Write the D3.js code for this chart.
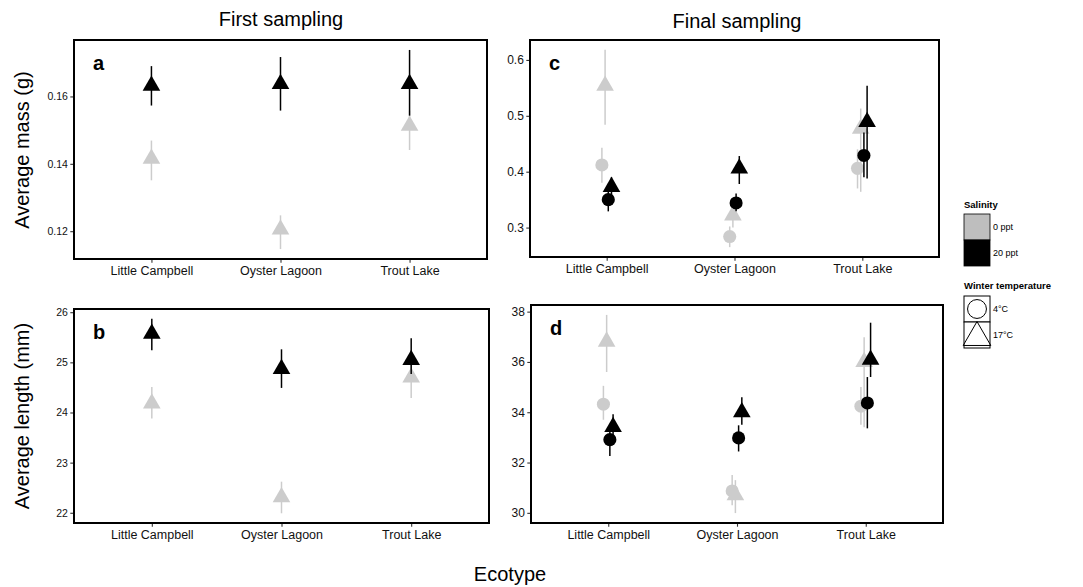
<!DOCTYPE html>
<html><head><meta charset="utf-8">
<script src="https://cdn.jsdelivr.net/npm/d3@7"></script>
<style>body{margin:0;background:#fff}svg{display:block}text{font-family:"Liberation Sans",Arial,Helvetica,sans-serif}</style>
</head><body><svg id="c" width="1083" height="587"></svg>
<script>
// ---------- DATA ----------
const categories = ["Little Campbell", "Oyster Lagoon", "Trout Lake"];
const salinityLevels = ["0 ppt", "20 ppt"];
const temperatureLevels = ["4°C", "17°C"];

// First sampling, average mass (g): only 17°C fish
const massFirst_0ppt_17 = [0.1415, 0.1205, 0.1513];
const massFirst_0ppt_17_lo = [0.1351, 0.1147, 0.1441];
const massFirst_0ppt_17_hi = [0.1469, 0.1247, 0.1558];
const massFirst_20ppt_17 = [0.1632, 0.1637, 0.1637];
const massFirst_20ppt_17_lo = [0.1573, 0.1558, 0.1543];
const massFirst_20ppt_17_hi = [0.1690, 0.1717, 0.1738];

// Final sampling, average mass (g)
const massFinal_0ppt_4 = [0.412, 0.284, 0.406];
const massFinal_0ppt_4_lo = [0.380, 0.265, 0.370];
const massFinal_0ppt_4_hi = [0.443, 0.302, 0.440];
const massFinal_0ppt_17 = [0.554, 0.322, 0.477];
const massFinal_0ppt_17_lo = [0.484, 0.300, 0.364];
const massFinal_0ppt_17_hi = [0.618, 0.342, 0.513];
const massFinal_20ppt_4 = [0.350, 0.344, 0.429];
const massFinal_20ppt_4_lo = [0.329, 0.329, 0.390];
const massFinal_20ppt_4_hi = [0.370, 0.361, 0.470];
const massFinal_20ppt_17 = [0.373, 0.406, 0.489];
const massFinal_20ppt_17_lo = [0.355, 0.378, 0.388];
const massFinal_20ppt_17_hi = [0.390, 0.428, 0.554];

// First sampling, average length (mm)
const lenFirst_0ppt_17 = [24.18, 22.31, 24.70];
const lenFirst_0ppt_17_lo = [23.88, 21.99, 24.29];
const lenFirst_0ppt_17_hi = [24.51, 22.62, 25.00];
const lenFirst_20ppt_17 = [25.57, 24.87, 25.05];
const lenFirst_20ppt_17_lo = [25.24, 24.49, 24.77];
const lenFirst_20ppt_17_hi = [25.87, 25.26, 25.48];

// Final sampling, average length (mm)
const lenFinal_0ppt_4 = [34.32, 30.87, 34.24];
const lenFinal_0ppt_4_lo = [33.70, 30.30, 33.50];
const lenFinal_0ppt_4_hi = [35.05, 31.50, 35.00];
const lenFinal_0ppt_17 = [36.81, 30.70, 36.00];
const lenFinal_0ppt_17_lo = [35.60, 29.99, 33.40];
const lenFinal_0ppt_17_hi = [37.87, 31.30, 36.98];
const lenFinal_20ppt_4 = [32.91, 32.98, 34.37];
const lenFinal_20ppt_4_lo = [32.26, 32.44, 33.36];
const lenFinal_20ppt_4_hi = [33.30, 33.48, 35.40];
const lenFinal_20ppt_17 = [33.42, 34.00, 36.09];
const lenFinal_20ppt_17_lo = [33.00, 33.50, 35.40];
const lenFinal_20ppt_17_hi = [33.92, 34.60, 37.56];

const ticksMassFirst = [0.12, 0.14, 0.16];
const ticksMassFinal = [0.3, 0.4, 0.5, 0.6];
const ticksLenFirst = [22, 23, 24, 25, 26];
const ticksLenFinal = [30, 32, 34, 36, 38];

// ---------- BUILD ----------
function series(sal, temp, m, lo, hi) {
  return categories.map((c, i) => ({cat: c, sal, temp, group: sal + "|" + temp, m: m[i], lo: lo[i], hi: hi[i]}));
}
const panels = [
  {letter: "a", box: [74, 40, 487, 259], ticks: ticksMassFirst, fmt: d3.format(".2f"), fs: 10.5, dodge: false,
   data: [series("0 ppt", "17°C", massFirst_0ppt_17, massFirst_0ppt_17_lo, massFirst_0ppt_17_hi),
          series("20 ppt", "17°C", massFirst_20ppt_17, massFirst_20ppt_17_lo, massFirst_20ppt_17_hi)]},
  {letter: "c", box: [530, 40, 939, 257], ticks: ticksMassFinal, fmt: d3.format(".1f"), fs: 12, dodge: true,
   data: [series("0 ppt", "4°C", massFinal_0ppt_4, massFinal_0ppt_4_lo, massFinal_0ppt_4_hi),
          series("0 ppt", "17°C", massFinal_0ppt_17, massFinal_0ppt_17_lo, massFinal_0ppt_17_hi),
          series("20 ppt", "4°C", massFinal_20ppt_4, massFinal_20ppt_4_lo, massFinal_20ppt_4_hi),
          series("20 ppt", "17°C", massFinal_20ppt_17, massFinal_20ppt_17_lo, massFinal_20ppt_17_hi)]},
  {letter: "b", box: [74, 309, 489, 523], ticks: ticksLenFirst, fmt: d3.format("d"), fs: 10.5, dodge: false,
   data: [series("0 ppt", "17°C", lenFirst_0ppt_17, lenFirst_0ppt_17_lo, lenFirst_0ppt_17_hi),
          series("20 ppt", "17°C", lenFirst_20ppt_17, lenFirst_20ppt_17_lo, lenFirst_20ppt_17_hi)]},
  {letter: "d", box: [531, 305, 943, 523], ticks: ticksLenFinal, fmt: d3.format("d"), fs: 12, dodge: true,
   data: [series("0 ppt", "4°C", lenFinal_0ppt_4, lenFinal_0ppt_4_lo, lenFinal_0ppt_4_hi),
          series("0 ppt", "17°C", lenFinal_0ppt_17, lenFinal_0ppt_17_lo, lenFinal_0ppt_17_hi),
          series("20 ppt", "4°C", lenFinal_20ppt_4, lenFinal_20ppt_4_lo, lenFinal_20ppt_4_hi),
          series("20 ppt", "17°C", lenFinal_20ppt_17, lenFinal_20ppt_17_lo, lenFinal_20ppt_17_hi)]}
];

const svg = d3.select("#c");
const color = d3.scaleOrdinal(salinityLevels, ["#cccccc", "#000000"]);
const shape = d3.scaleOrdinal(temperatureLevels, [d3.symbolCircle, d3.symbolTriangle]);
const shapeSize = d3.scaleOrdinal(temperatureLevels, [135, 135]);
const groupOrder = ["0 ppt|4°C", "0 ppt|17°C", "20 ppt|4°C", "20 ppt|17°C"];

panels.forEach(p => {
  const [x0, y0, x1, y1] = p.box;
  const g = svg.append("g");
  const x = d3.scalePoint(categories, [x0, x1]).padding(0.6);
  const all = p.data.flat();
  const ext = [d3.min(all, d => d.lo), d3.max(all, d => d.hi)];
  const pad = (ext[1] - ext[0]) * 0.05;
  const y = d3.scaleLinear([ext[0] - pad, ext[1] + pad], [y1, y0]);
  const dw = x.step() * 0.1;
  const dodge = d3.scaleBand(groupOrder, [-dw / 2, dw / 2]);

  const ya = g.append("g").attr("transform", `translate(${x0},0)`)
    .call(d3.axisLeft(y).tickValues(p.ticks).tickFormat(p.fmt).tickSize(3.7).tickPadding(2.5));
  const xa = g.append("g").attr("transform", `translate(0,${y1})`)
    .call(d3.axisBottom(x).tickSize(3.7).tickPadding(3));
  [ya, xa].forEach(a => {
    a.select(".domain").remove();
    a.selectAll(".tick line").attr("stroke", "#333").attr("stroke-width", 1.1);
    a.selectAll(".tick text").attr("fill", "#111").style("font-family", '"Liberation Sans",Arial,sans-serif');
  });
  ya.selectAll(".tick text").attr("font-size", p.fs);
  xa.selectAll(".tick text").attr("font-size", 12.5);

  g.append("rect").attr("x", x0).attr("y", y0).attr("width", x1 - x0).attr("height", y1 - y0)
    .attr("fill", "none").attr("stroke", "#000").attr("stroke-width", 2);

  const pts = p.data.map(s => s.map(d => ({...d, px: x(d.cat) + (p.dodge ? dodge(d.group) + dodge.bandwidth() / 2 : 0)})));
  pts.forEach(s => {
    const sg = g.append("g");
    sg.selectAll("line").data(s).join("line")
      .attr("x1", d => d.px).attr("x2", d => d.px)
      .attr("y1", d => y(d.lo)).attr("y2", d => y(d.hi))
      .attr("stroke", d => color(d.sal)).attr("stroke-width", 1.5);
    sg.selectAll("path").data(s).join("path")
      .attr("transform", d => `translate(${d.px},${y(d.m)})`)
      .attr("d", d => d3.symbol(shape(d.temp), shapeSize(d.temp))())
      .attr("fill", d => color(d.sal));
  });

  g.append("text").attr("x", x0 + 19).attr("y", y0 + 30).attr("font-size", 20).attr("font-weight", "bold").text(p.letter);
});

svg.append("text").attr("x", 281).attr("y", 26).attr("text-anchor", "middle").attr("font-size", 20).text("First sampling");
svg.append("text").attr("x", 737).attr("y", 28).attr("text-anchor", "middle").attr("font-size", 20).text("Final sampling");
svg.append("text").attr("transform", "translate(29,150) rotate(-90)").attr("text-anchor", "middle").attr("font-size", 20).text("Average mass (g)");
svg.append("text").attr("transform", "translate(29,416) rotate(-90)").attr("text-anchor", "middle").attr("font-size", 20).text("Average length (mm)");
svg.append("text").attr("x", 510).attr("y", 581).attr("text-anchor", "middle").attr("font-size", 20).text("Ecotype");

const lg = svg.append("g").attr("transform", "translate(964,0)");
lg.append("text").attr("x", 0).attr("y", 208).attr("font-size", 9.5).attr("font-weight", "bold").text("Salinity");
const salKeys = lg.selectAll("g.sal").data(salinityLevels).join("g").attr("class", "sal")
  .attr("transform", (d, i) => `translate(0,${214 + i * 26})`);
salKeys.append("rect").attr("width", 26).attr("height", 26).attr("fill", d => d === "0 ppt" ? "#bebebe" : "#000")
  .attr("stroke", "#000").attr("stroke-width", 0.8);
salKeys.append("text").attr("x", 29).attr("y", 16).attr("font-size", 9).text(d => d);

lg.append("text").attr("x", 0).attr("y", 289).attr("font-size", 9.5).attr("font-weight", "bold").text("Winter temperature");
const tKeys = lg.selectAll("g.tmp").data(temperatureLevels).join("g").attr("class", "tmp")
  .attr("transform", (d, i) => `translate(0,${296 + i * 26})`);
tKeys.append("rect").attr("width", 26).attr("height", 26).attr("fill", "#fff").attr("stroke", "#000").attr("stroke-width", 1);
tKeys.append("path").attr("transform", d => d === "4°C" ? "translate(13,13)" : "translate(13,15.5)")
  .attr("d", d => d3.symbol(shape(d), d === "4°C" ? 280 : 330)())
  .attr("fill", "none").attr("stroke", "#000").attr("stroke-width", 1);
tKeys.append("text").attr("x", 29).attr("y", 16).attr("font-size", 9).text(d => d);
</script></body></html>
